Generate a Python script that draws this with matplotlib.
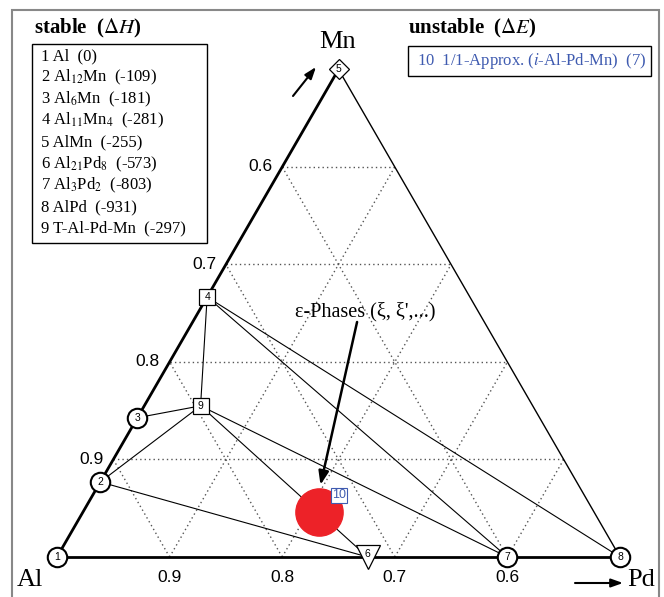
import numpy as np
import matplotlib
matplotlib.use("Agg")
import matplotlib.pyplot as plt
from matplotlib.patches import Rectangle

plt.rcParams["mathtext.fontset"] = "stix"
SERIF = "Liberation Serif"
SANS = "Liberation Sans"

# stable phases: composition as (Pd, Mn) mole fractions, Al = rest
phase_labels = ["Al", "Al$_{12}$Mn", "Al$_6$Mn", "Al$_{11}$Mn$_4$", "AlMn",
                "Al$_{21}$Pd$_8$", "Al$_3$Pd$_2$", "AlPd", "T-Al-Pd-Mn"]
phase_dH = [0, -109, -181, -281, -255, -573, -803, -931, -297]
phase_pd = [0.0, 0.0, 0.0, 0.0, 0.0, 8 / 29, 0.4, 0.5, 0.05]
phase_mn = [0.0, 1 / 13, 1 / 7, 4 / 15, 0.5, 0.0, 0.0, 0.0, 0.155]
phase_marker = ["o", "o", "o", "s", "D", "v", "o", "o", "s"]

# tie lines between stable phases (1-based ids)
tie_lines = [(2, 6), (2, 9), (3, 9), (4, 9), (9, 6), (9, 7), (4, 7), (4, 8)]

# unstable phase
unst_label = "1/1-Approx. ($i$-Al-Pd-Mn)"
unst_dE = 7
unst_pd = 0.21
unst_mn = 0.046

grid_vals = [0.1, 0.2, 0.3, 0.4]
al_ticks = [0.9, 0.8, 0.7, 0.6]

S3 = np.sqrt(3) / 2


def tern(pd, mn):
    pd = np.asarray(pd, dtype=float)
    mn = np.asarray(mn, dtype=float)
    return pd + mn / 2, mn * S3


def fpx(x, y):
    return x / 664, 1 - y / 597


fig = plt.figure(figsize=(6.64, 5.97), dpi=100)
ax = fig.add_axes([0, 0, 1, 1])
ax.set_xlim(-57 / 1126, 607 / 1126)
ax.set_ylim((557 - 597) / 1126, 557 / 1126)
ax.axis("off")

# dotted composition grid inside the Al-rich half
gkw = dict(color="#555555", lw=1.0, ls=(0, (1, 2.2)), zorder=1)
for g in grid_vals:
    ax.plot(*tern([0, 0.5 - g], [g, g]), **gkw)      # const Mn
    ax.plot(*tern([g, g], [0, 0.5 - g]), **gkw)      # const Pd
    ax.plot(*tern([g, 0], [0, g]), **gkw)            # const Al

# triangle edges
ax.plot(*tern([0, 0], [0, 0.5]), color="black", lw=2.0, zorder=2)
ax.plot(*tern([0, 0.5], [0, 0]), color="black", lw=2.0, zorder=2)
ax.plot(*tern([0.5, 0], [0, 0.5]), color="black", lw=1.0, zorder=2)

# tie lines
for a, b in tie_lines:
    ax.plot(*tern([phase_pd[a - 1], phase_pd[b - 1]], [phase_mn[a - 1], phase_mn[b - 1]]),
            color="black", lw=0.8, zorder=3)

# unstable phase
ux, uy = tern(unst_pd, unst_mn)
ax.plot(ux, uy, "o", ms=34, color="#ED2228", mec="#ED2228", zorder=4)
ax.annotate("10", (ux, uy), xytext=(14, 12), textcoords="offset points",
            fontsize=9, family=SANS, color="#3F5BB0", ha="center", va="center", zorder=6,
            bbox=dict(boxstyle="square,pad=0.1", fc="white", ec="#3F5BB0", lw=0.8))

# stable phase markers
msize = {"o": 14, "s": 11, "D": 10.5, "v": 17}
mew = {"o": 1.5, "s": 0.9, "D": 0.9, "v": 0.9}
for i, (p, m, mk) in enumerate(zip(phase_pd, phase_mn, phase_marker)):
    x, y = tern(p, m)
    ax.plot(x, y, mk, ms=msize[mk], mfc="white", mec="black", mew=mew[mk], zorder=5)
    dy = 2 if mk == "v" else 0
    ax.annotate(str(i + 1), (x, y), xytext=(0, dy), textcoords="offset points",
                fontsize=7.5, family=SANS, ha="center", va="center", zorder=6)

# Al fraction labels on both edges
for a in al_ticks:
    x, y = tern(0, 1 - a)
    ax.annotate(f"{a:.1f}", (x, y), xytext=(-7, 0), textcoords="offset points",
                fontsize=12.5, family=SANS, ha="right", va="center")
    x, y = tern(1 - a, 0)
    ax.annotate(f"{a:.1f}", (x, y), xytext=(0, -9), textcoords="offset points",
                fontsize=12.5, family=SANS, ha="center", va="top")

# epsilon phase pointer
ax.annotate("", xy=tern(0.197, 0.074), xytext=tern(0.146, 0.241),
            arrowprops=dict(arrowstyle="-|>,head_length=0.8,head_width=0.3", lw=1.8,
                            color="black", shrinkA=0, shrinkB=0), zorder=7)
fig.text(*fpx(365, 312), "ε-Phases (ξ, ξ',...)", fontsize=14.5, family=SERIF,
         ha="center", va="center")

# element labels and direction arrows
fig.text(*fpx(338, 42), "Mn", fontsize=19, family=SERIF, ha="center", va="center")
fig.text(*fpx(30, 580), "Al", fontsize=19, family=SERIF, ha="center", va="center")
fig.text(*fpx(641, 580), "Pd", fontsize=19, family=SERIF, ha="center", va="center")
akw = dict(arrowstyle="-|>,head_length=0.7,head_width=0.25", lw=1.5, color="black",
           shrinkA=0, shrinkB=0)
ax.annotate("", xy=fpx(316, 67), xycoords="figure fraction",
            xytext=fpx(293, 96), textcoords="figure fraction", arrowprops=akw)
ax.annotate("", xy=fpx(623, 583), xycoords="figure fraction",
            xytext=fpx(575, 583), textcoords="figure fraction", arrowprops=akw)

# stable legend
fig.text(*fpx(34, 28), r"stable  ($\mathit{\Delta H}$)", fontsize=15, family=SERIF,
         fontweight="bold", ha="left", va="center")
fig.patches.append(Rectangle(fpx(32, 243), 175 / 664, 199 / 597, transform=fig.transFigure,
                             fill=False, ec="black", lw=1.0))
for i, (lab, dh) in enumerate(zip(phase_labels, phase_dH)):
    fig.text(*fpx(41, 56 + 21.6 * i), f"{i + 1} {lab}  ({dh})", fontsize=12, family=SERIF,
             ha="left", va="center")

# unstable legend
fig.text(*fpx(408, 28), r"unstable  ($\mathit{\Delta E}$)", fontsize=15, family=SERIF,
         fontweight="bold", ha="left", va="center")
fig.patches.append(Rectangle(fpx(408, 76), 243 / 664, 30 / 597, transform=fig.transFigure,
                             fill=False, ec="black", lw=1.0))
fig.text(*fpx(417, 61), f"10  {unst_label}  ({unst_dE})", fontsize=12, family=SERIF,
         color="#3F5BB0", ha="left", va="center")

# outer frame
fig.patches.append(Rectangle((12 / 664, -0.02), 647 / 664, 1 - 10 / 597 + 0.02,
                             transform=fig.transFigure, fill=False, ec="#888888", lw=1.5))

fig.savefig("out.png", dpi=100)
